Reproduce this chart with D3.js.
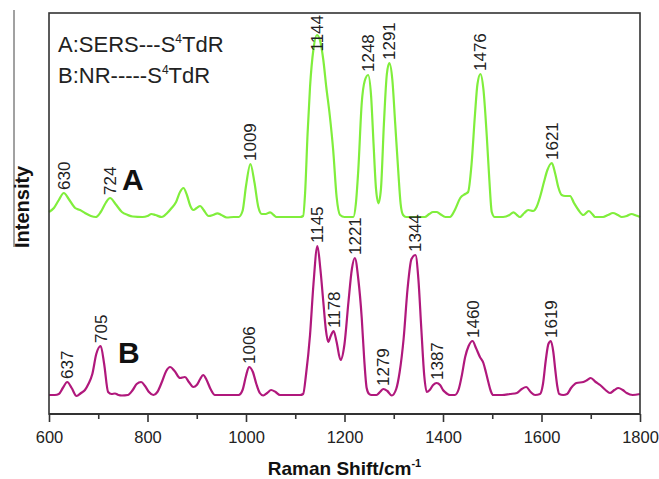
<!DOCTYPE html>
<html>
<head>
<meta charset="utf-8">
<script src="https://cdn.jsdelivr.net/npm/d3@7"></script>
<style>
  body { margin: 0; background: #fff; }
  svg { display: block; font-family: "Liberation Sans", Arial, sans-serif; }
</style>
</head>
<body>
<svg id="chart" width="659" height="479"></svg>
<script>
// Raman spectra of S4TdR: [Raman shift (cm-1), intensity (a.u., stacked)]
const spectrumA = [
  [600,202],[610,206],[620,214],[630,221],[640,215],[653,206],[663,204],[673,201],[685,198],[695,197],
  [705,202],[715,211],[724,216],[735,210],[748,202],[760,199],[770,197.5],[790,197],[800,198],[808,200],
  [816,199],[829,197],[840,201],[849,206],[858,212],[866,222],[873,226],[880,219],[887,208],[893,204],
  [900,206],[907,208],[914,204],[924,198],[933,199],[942,200.7],[950,199],[961,196.5],[975,197],[985,197],
  [993,203],[1000,228],[1009,250],[1017,232],[1025,207],[1032,200],[1040,200],[1049,201.7],[1056,199],[1062,197],
  [1080,197],[1100,197],[1110,197],[1116,198],[1120,221],[1125,280],[1130,327],[1137,365],[1144,379],[1150,374],
  [1157,354],[1163,327],[1170,299],[1177,264],[1184,217],[1191,199],[1200,197],[1210,197],[1218,197],[1223,210],
  [1228,244],[1235,311],[1241,333],[1248,339],[1254,318],[1259,270],[1264,225],[1269,210.7],[1274,225],[1280,290],
  [1286,340],[1291,351],[1297,335],[1303,290],[1309,244],[1314,210],[1319,199],[1325,197],[1340,197],[1350,197],
  [1363,197],[1372,200],[1380,202],[1387,202],[1394,200],[1405,197],[1414,197],[1425,205],[1435,216],[1445,220],
  [1451,222],[1458,250],[1465,300],[1470,330],[1476,340],[1482,325],[1489,277],[1494,235],[1499,202],[1505,197],
  [1522,197],[1535,199],[1543,201.7],[1550,199],[1556,197],[1565,201],[1573,204],[1583,203],[1590,207],[1597,217],
  [1605,232],[1612,244],[1621,251],[1628,240],[1634,227],[1641,219],[1648,218],[1658,218],[1666,211],[1675,204],
  [1685,199],[1696,203],[1703,200],[1709,197],[1725,197],[1735,199],[1745,201],[1755,199],[1763,197],[1773,198],
  [1783,200],[1792,198.5],[1800,197]
];

const spectrumB = [
  [600,19],[612,19],[620,20],[628,26],[637,32],[646,26],[656,18],[665,21],[673,24],[680,30],
  [688,40],[696,60],[705,68],[712,50],[720,22],[727,20],[734,20.5],[741,19],[748,18.5],[760,19],
  [770,24],[778,30],[787,32],[795,28],[803,22],[812,19],[820,22],[830,33],[838,43],[846,47],
  [855,43],[866,36],[876,37],[884,32],[893,27],[900,29],[907,35],[913,39],[920,34],[928,25],
  [937,19],[960,19],[985,19],[993,24],[1000,38],[1006,47],[1014,42],[1021,30],[1028,21],[1035,18.5],
  [1043,21],[1051,24],[1060,22],[1069,19],[1090,19],[1110,19],[1116,20],[1122,40],[1130,79],[1137,130],
  [1145,168],[1151,145],[1157,112],[1162,85],[1167,72],[1172,78],[1178,83],[1184,72],[1192,54],[1200,70],
  [1208,112],[1215,145],[1221,156],[1228,135],[1235,96],[1240,55],[1245,26],[1250,20],[1255,19],[1265,19],
  [1272,22],[1279,25],[1287,23],[1296,18.5],[1305,25],[1312,42],[1320,75],[1328,125],[1336,155],[1344,159],
  [1350,135],[1356,85],[1362,38],[1367,22],[1373,24],[1380,29],[1387,31],[1394,29],[1400,24],[1404,22],
  [1414,19],[1424,19],[1432,25],[1438,38],[1445,57],[1452,68],[1460,73],[1467,66],[1475,57],[1482,51],
  [1487,42],[1492,32],[1497,23],[1502,19],[1520,19],[1536,20],[1550,21],[1560,25],[1569,27],[1578,22],
  [1587,19],[1597,20],[1603,30],[1609,55],[1614,70],[1619,73],[1624,62],[1628,44],[1632,28],[1636,20],
  [1644,19],[1652,20],[1660,26],[1671,31],[1685,32],[1693,34],[1700,36],[1710,32],[1719,29],[1730,24],
  [1739,21],[1748,24],[1756,26],[1765,24],[1773,21],[1785,19],[1800,20]
];

// annotated band positions (cm-1)
const peaksA = [630, 724, 1009, 1144, 1248, 1291, 1476, 1621];
const peaksB = [637, 705, 1006, 1145, 1178, 1221, 1279, 1344, 1387, 1460, 1619];

const majorTicks = [600, 800, 1000, 1200, 1400, 1600, 1800];
const minorTicks = [700, 900, 1100, 1300, 1500, 1700];

const legendRows = [
  { pre: "A:SERS---S", sup: "4", post: "TdR" },
  { pre: "B:NR-----S", sup: "4", post: "TdR" }
];

const colorA = "#80ee3c";
const colorB = "#b0187c";

const svg = d3.select("#chart");
const plotLeft = 49, plotTop = 13, plotRight = 640, plotBottom = 414;

const x = d3.scaleLinear().domain([600, 1800]).range([plotLeft, plotRight]);
const y = d3.scaleLinear().domain([0, 401]).range([plotBottom, plotTop]);

const line = d3.line()
  .x(d => x(d[0]))
  .y(d => y(d[1]))
  .curve(d3.curveMonotoneX);

// spectra
[[spectrumA, colorA], [spectrumB, colorB]].forEach(([data, col]) => {
  svg.append("path")
    .datum(data)
    .attr("fill", "none")
    .attr("stroke", col)
    .attr("stroke-width", 2.2)
    .attr("stroke-linejoin", "round")
    .attr("d", line);
});

// frame
svg.append("rect")
  .attr("x", plotLeft).attr("y", plotTop)
  .attr("width", plotRight - plotLeft).attr("height", plotBottom - plotTop)
  .attr("fill", "none").attr("stroke", "#333").attr("stroke-width", 1.6);
svg.append("line")
  .attr("x1", plotLeft).attr("x2", plotRight).attr("y1", plotBottom).attr("y2", plotBottom)
  .attr("stroke", "#333").attr("stroke-width", 2.2);

// x axis ticks
const minorAxis = svg.append("g").attr("transform", `translate(0,${plotBottom})`)
  .call(d3.axisBottom(x).tickValues(minorTicks).tickSize(5).tickFormat(""));
const majorAxis = svg.append("g").attr("transform", `translate(0,${plotBottom})`)
  .call(d3.axisBottom(x).tickValues(majorTicks).tickSize(8).tickFormat(d3.format("d")));
[minorAxis, majorAxis].forEach(g => {
  g.select(".domain").remove();
  g.selectAll(".tick line").attr("stroke", "#333").attr("stroke-width", 1.6);
});
majorAxis.selectAll(".tick text")
  .attr("y", 17).attr("dy", "0.71em")
  .attr("fill", "#222").style("font-size", "16.5px")
  .style("font-family", "'Liberation Sans', Arial, sans-serif");

// axis titles
const xt = svg.append("text")
  .attr("x", (plotLeft + plotRight) / 2).attr("y", 475)
  .attr("text-anchor", "middle")
  .attr("fill", "#111")
  .style("font-size", "19px").style("font-weight", "bold");
xt.append("tspan").text("Raman Shift/cm");
xt.append("tspan").attr("dy", -8).style("font-size", "11px").text("-1");

svg.append("line")
  .attr("x1", 14).attr("x2", 14).attr("y1", 10).attr("y2", 247)
  .attr("stroke", "#444").attr("stroke-width", 1);
svg.append("text")
  .attr("transform", "translate(29,248) rotate(-90)")
  .attr("fill", "#111")
  .style("font-size", "20px").style("font-weight", "bold")
  .text("Intensity");

// legend
legendRows.forEach((r, i) => {
  const t = svg.append("text")
    .attr("x", 58).attr("y", 52 + i * 31)
    .attr("fill", "#222").style("font-size", "22px");
  t.append("tspan").text(r.pre);
  t.append("tspan").attr("dy", -9).style("font-size", "12px").text(r.sup);
  t.append("tspan").attr("dy", 9).text(r.post);
});

// series letters
svg.append("text").attr("x", 122).attr("y", 190)
  .style("font-size", "30px").style("font-weight", "bold").attr("fill", "#111").text("A");
svg.append("text").attr("x", 118).attr("y", 363)
  .style("font-size", "30px").style("font-weight", "bold").attr("fill", "#111").text("B");

// peak annotations, placed just above each band maximum but kept inside the frame
function annotate(data, peaks) {
  peaks.forEach(p => {
    const pt = data.find(d => d[0] === p);
    const t = svg.append("text")
      .attr("fill", "#222").style("font-size", "17px")
      .attr("dy", "0.35em")
      .text(p);
    const len = t.node().getComputedTextLength();
    const base = Math.max(y(pt[1]) - 3, plotTop + len + 2);
    t.attr("transform", `translate(${x(p)},${base}) rotate(-90)`);
  });
}
annotate(spectrumA, peaksA);
annotate(spectrumB, peaksB);
</script>
</body>
</html>
